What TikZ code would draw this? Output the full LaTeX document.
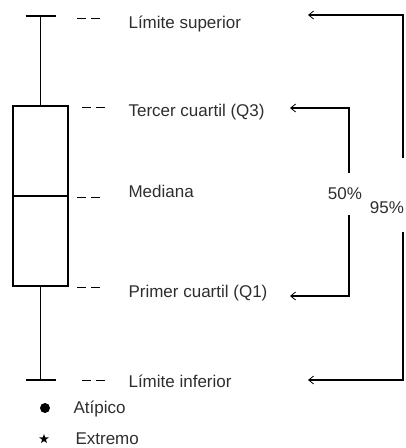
\documentclass[tikz,border=0pt]{standalone}
\usepackage{fontspec}
\setmainfont{Liberation Sans}
\usetikzlibrary{arrows.meta,positioning,shapes.geometric}
\definecolor{ink}{HTML}{2E2E2E}
\tikzset{
  lbl/.style={anchor=west, inner sep=0pt, text height=12pt, text depth=0pt,
              font=\fontsize{17}{20}\selectfont, text=ink},
  flow/.style={-{Straight Barb[length=5pt,width=8pt,line width=0.8pt]}, line width=1.1pt},
  dashmark/.style={line width=1pt, dash pattern=on 9pt off 5pt}
}
\begin{document}
\begin{tikzpicture}[x=1pt, y=-1pt, line width=1.1pt,
    box/.style={draw, minimum width=55pt, minimum height=180pt, inner sep=0pt},
    pct/.style={lbl, anchor=center}
    ]
  \useasboundingbox (0,0) rectangle (406,448);

  % box and whiskers
  \node[box] (box) at (40.5,196) {};
  \draw (box.west) -- (box.east);
  \coordinate (wtop) at (40.5,16);
  \coordinate (wbot) at (40.5,380);
  \draw (box.north) -- (wtop);
  \draw (box.south) -- (wbot);
  \draw ([xshift=-15pt]wtop) -- ([xshift=15pt]wtop);
  \draw ([xshift=-15pt]wbot) -- ([xshift=15pt]wbot);

  % labels
  \node[lbl] (lsup) at (128,22) {Límite superior};
  \node[lbl] (q3) at (128,110.5) {Tercer cuartil (Q3)};
  \node[lbl] (med) at (128,191) {Mediana};
  \node[lbl] (q1) at (128,291) {Primer cuartil (Q1)};
  \node[lbl] (linf) at (128,381) {Límite inferior};

  \draw[dashmark] (77,18) -- (100,18);
  \draw[dashmark] (82,107) -- (107,107);
  \draw[dashmark] (77,197) -- (100,197);
  \draw[dashmark] (77,287) -- (100,287);
  \draw[dashmark] (82,380) -- (107,380);

  % percentages
  \node[pct] (p50) at (345,193) {50\%};
  \node[pct] (p95) at (387,207) {95\%};

  \coordinate (tsup) at (308,15);
  \coordinate (tq3) at (290,108);
  \coordinate (tq1) at (290,296);
  \coordinate (tinf) at (308,380);
  \coordinate (b50t) at (349,173);
  \coordinate (b50b) at (349,215);
  \coordinate (b95t) at (403,158);
  \coordinate (b95b) at (403,232);

  \draw[flow] (b50t) |- (tq3);
  \draw[flow] (b50b) |- (tq1);
  \draw[flow] (b95t) |- (tsup);
  \draw[flow] (b95b) |- (tinf);

  % legend
  \node[circle, fill, minimum size=10pt, inner sep=0pt] (dot) at (45,408) {};
  \node[lbl] (atip) at (73,407.5) {Atípico};
  \node[star, star points=5, star point ratio=2.5, fill, minimum size=10pt, inner sep=0pt] (strm) at (44,439) {};
  \node[lbl] (extr) at (75,438) {Extremo};
\end{tikzpicture}
\end{document}
